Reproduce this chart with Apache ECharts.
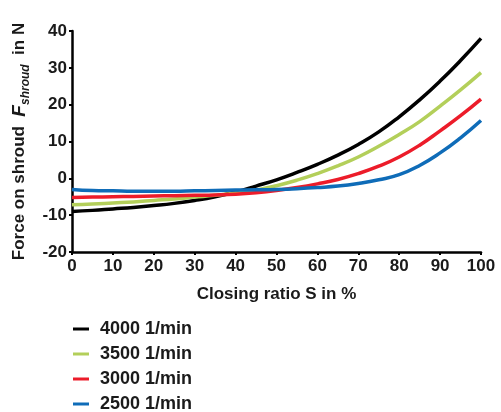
<!DOCTYPE html>
<html>
<head>
<meta charset="utf-8">
<script src="https://cdn.jsdelivr.net/npm/echarts@6/dist/echarts.min.js"></script>
<style>
  html, body { margin: 0; padding: 0; background: #fff; }
  #chart { width: 501px; height: 412px; }
</style>
</head>
<body>
<div id="chart"></div>
<script>
// Closing ratio S in % (x positions of the samples)
const closingRatio = [0, 5, 10, 15, 20, 25, 30, 35, 40, 45, 50, 55, 60, 65, 70, 75, 80, 85, 90, 95, 100];

// Force on shroud in N for each rotational speed
const force4000 = [-9.0, -8.7, -8.3, -7.9, -7.4, -6.8, -6.0, -5.0, -3.7, -2.1, -0.4, 1.6, 3.8, 6.3, 9.2, 12.6, 16.7, 21.3, 26.4, 32.0, 38.0];
const force3500 = [-7.2, -7.0, -6.7, -6.4, -6.0, -5.6, -5.1, -4.6, -4.0, -3.2, -2.0, -0.5, 1.3, 3.4, 5.8, 8.7, 11.9, 15.4, 19.6, 24.0, 28.7];
const force3000 = [-5.2, -5.1, -5.0, -4.9, -4.8, -4.7, -4.6, -4.5, -4.3, -3.9, -3.3, -2.5, -1.5, -0.3, 1.3, 3.3, 5.8, 9.0, 12.9, 17.0, 21.5];
const force2500 = [-3.0, -3.3, -3.4, -3.5, -3.5, -3.5, -3.4, -3.3, -3.2, -3.1, -3.0, -2.8, -2.5, -2.1, -1.4, -0.4, 1.0, 3.5, 6.9, 11.0, 15.7];

const seriesNames = ['4000 1/min', '3500 1/min', '3000 1/min', '2500 1/min'];
const seriesColors = ['#000000', '#b3cf5a', '#ec1c2a', '#0f6cb8'];
const seriesData = [force4000, force3500, force3000, force2500];

const xTicks = { min: 0, max: 100, interval: 10 };
const yTicks = { min: -20, max: 40, interval: 10 };

const font = 'Liberation Sans, Arial, sans-serif';
const textColor = '#1a1a1a';

const chart = echarts.init(document.getElementById('chart'), null, { renderer: 'canvas' });

chart.setOption({
  animation: false,
  backgroundColor: '#ffffff',
  grid: { left: 72, right: 20, top: 31, bottom: 160, containLabel: false },
  legend: {
    orient: 'vertical',
    left: 73,
    top: 320,
    height: 100,
    padding: 0,
    itemGap: 7,
    itemWidth: 16,
    itemHeight: 3,
    icon: 'rect',
    textStyle: { fontFamily: font, fontWeight: 'bold', fontSize: 18, lineHeight: 18, color: textColor, padding: [0, 0, 0, 6] },
    data: seriesNames
  },
  xAxis: {
    type: 'value',
    min: xTicks.min, max: xTicks.max, interval: xTicks.interval,
    name: 'Closing ratio S in %',
    nameLocation: 'middle',
    nameGap: 34,
    nameTextStyle: { fontFamily: font, fontWeight: 'bold', fontSize: 17, color: textColor },
    axisLine: { onZero: false, lineStyle: { color: '#000', width: 2.5 } },
    axisTick: { show: true, length: 3, lineStyle: { color: '#000', width: 2 } },
    axisLabel: { fontFamily: font, fontWeight: 'bold', fontSize: 17, color: textColor, margin: 6 },
    splitLine: { show: false }
  },
  yAxis: {
    type: 'value',
    min: yTicks.min, max: yTicks.max, interval: yTicks.interval,
    name: '{a|Force on shroud  }{f|F}{s|shroud}{a|  in N}',
    nameLocation: 'middle',
    nameRotate: 90,
    nameGap: 34,
    nameTextStyle: {
      fontFamily: font, fontWeight: 'bold', color: textColor,
      rich: {
        a: { fontFamily: font, fontWeight: 'bold', fontSize: 17, color: textColor, lineHeight: 24, verticalAlign: 'middle' },
        f: { fontFamily: font, fontWeight: 'bold', fontStyle: 'italic', fontSize: 19, color: textColor, lineHeight: 24, verticalAlign: 'middle' },
        s: { fontFamily: font, fontWeight: 'bold', fontStyle: 'italic', fontSize: 12, color: textColor, lineHeight: 24, verticalAlign: 'bottom', padding: [10, 0, 0, 0] }
      }
    },
    axisLine: { show: true, onZero: false, lineStyle: { color: '#000', width: 2.5 } },
    axisTick: { show: true, length: 3, lineStyle: { color: '#000', width: 2 } },
    axisLabel: { fontFamily: font, fontWeight: 'bold', fontSize: 17, color: textColor, margin: 5 },
    splitLine: { show: false }
  },
  series: seriesNames.map((name, i) => ({
    name: name,
    type: 'line',
    smooth: true,
    symbol: 'none',
    color: seriesColors[i],
    lineStyle: { width: 3.5, color: seriesColors[i] },
    data: closingRatio.map((x, j) => [x, seriesData[i][j]])
  }))
});
</script>
</body>
</html>
